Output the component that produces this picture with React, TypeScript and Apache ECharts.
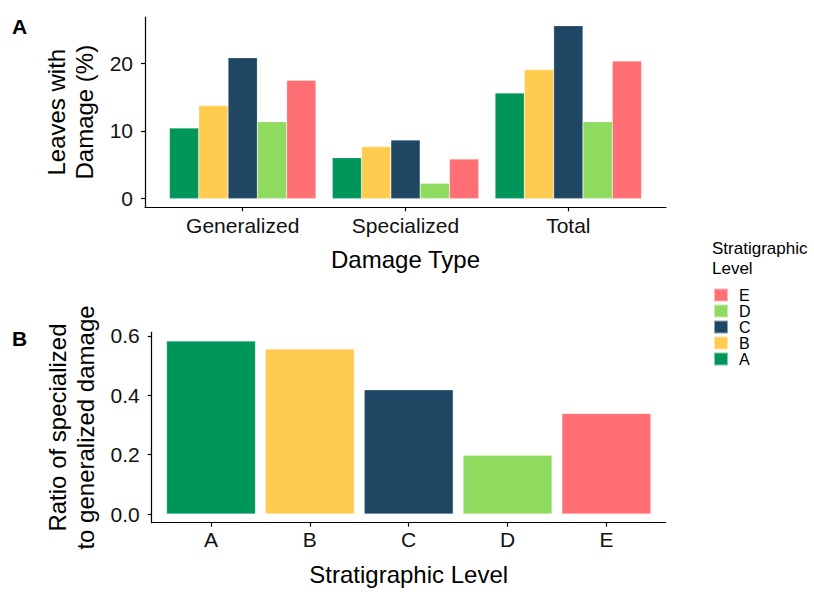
import React, { useEffect, useRef } from "react";
import * as echarts from "echarts";

const categories = ["Generalized", "Specialized", "Total"];
const levels = ["A", "B", "C", "D", "E"];
const legendOrder = ["E", "D", "C", "B", "A"];
const levelColors: Record<string, string> = {
  A: "#00965A",
  B: "#FFCC4F",
  C: "#1F4663",
  D: "#8FDB5F",
  E: "#FF6F74",
};
const damageA = [10.45, 6.06, 15.62];
const damageB = [13.75, 7.69, 19.1];
const damageC = [20.84, 8.67, 25.57];
const damageD = [11.38, 2.27, 11.38];
const damageE = [17.5, 5.87, 20.35];
const ratioValues = [0.5825, 0.5555, 0.418, 0.198, 0.3386];
const topTicks = [0, 10, 20];
const bottomTicks = [0, 0.2, 0.4, 0.6];

const FONT = "'Liberation Sans', Arial, Helvetica, sans-serif";

export default function App() {
  const ref = useRef<HTMLDivElement>(null);
  useEffect(() => {
    if (!ref.current) return;
    const chart = echarts.init(ref.current, undefined, { renderer: "svg" });
    const damage: Record<string, number[]> = {
      A: damageA,
      B: damageB,
      C: damageC,
      D: damageD,
      E: damageE,
    };
    const allTop = [...damageA, ...damageB, ...damageC, ...damageD, ...damageE];
    const topMaxData = Math.max(...allTop);
    const topMin = -0.05 * topMaxData;
    const topMax = 1.05 * topMaxData;
    const botMaxData = Math.max(...ratioValues);
    const botMin = -0.05 * botMaxData;
    const botMax = 1.05 * botMaxData;

    // panel geometry (ggplot-style discrete expansion of 0.6 units)
    const topLeft = 145, topWidth = 521, topTop = 17, topHeight = 190.3;
    const topUnit = topWidth / (categories.length + 0.2);
    const botLeft = 151.7, botWidth = 514, botTop = 332.3, botHeight = 190.4;
    const botUnit = botWidth / (levels.length + 0.2);

    const axisLineStyle = { color: "#000", width: 1.2 };
    const tickLabel = { fontSize: 21, color: "#111", fontFamily: FONT };
    const nameStyle = { fontSize: 24, color: "#000", fontFamily: FONT, lineHeight: 28 };

    chart.setOption({
      animation: false,
      textStyle: { fontFamily: FONT },
      grid: [
        { left: topLeft, top: topTop, width: topWidth, height: topHeight },
        { left: topLeft + 0.1 * topUnit, top: topTop, width: topWidth - 0.2 * topUnit, height: topHeight },
        { left: botLeft, top: botTop, width: botWidth, height: botHeight },
        { left: botLeft + 0.1 * botUnit, top: botTop, width: botWidth - 0.2 * botUnit, height: botHeight },
      ],
      xAxis: [
        {
          gridIndex: 0, type: "value", min: 0, max: 1,
          axisLine: { show: true, onZero: false, lineStyle: axisLineStyle },
          axisTick: { show: false }, axisLabel: { show: false }, splitLine: { show: false },
        },
        {
          gridIndex: 1, type: "category", data: categories,
          axisLine: { show: false, onZero: false },
          axisTick: { show: true, alignWithLabel: true, length: 4, lineStyle: axisLineStyle },
          axisLabel: { ...tickLabel, margin: 8 },
          name: "Damage Type", nameLocation: "middle", nameGap: 38, nameTextStyle: nameStyle,
        },
        {
          gridIndex: 2, type: "value", min: 0, max: 1,
          axisLine: { show: true, onZero: false, lineStyle: axisLineStyle },
          axisTick: { show: false }, axisLabel: { show: false }, splitLine: { show: false },
        },
        {
          gridIndex: 3, type: "category", data: levels,
          axisLine: { show: false, onZero: false },
          axisTick: { show: true, alignWithLabel: true, length: 4, lineStyle: axisLineStyle },
          axisLabel: { ...tickLabel, margin: 6 },
          name: "Stratigraphic Level", nameLocation: "middle", nameGap: 38, nameTextStyle: nameStyle,
        },
      ],
      yAxis: [
        {
          gridIndex: 0, type: "value", min: topMin, max: topMax,
          axisLine: { show: true, lineStyle: axisLineStyle },
          axisTick: { show: true, length: 4, lineStyle: axisLineStyle, customValues: topTicks },
          axisLabel: { ...tickLabel, margin: 12, customValues: topTicks },
          splitLine: { show: false },
          name: "Leaves with\nDamage (%)", nameLocation: "middle", nameRotate: 90, nameGap: 45,
          nameTextStyle: nameStyle,
        },
        { gridIndex: 1, type: "value", min: topMin, max: topMax, show: false },
        {
          gridIndex: 2, type: "value", min: botMin, max: botMax,
          axisLine: { show: true, lineStyle: axisLineStyle },
          axisTick: { show: true, length: 4, lineStyle: axisLineStyle, customValues: bottomTicks },
          axisLabel: {
            ...tickLabel, margin: 12, customValues: bottomTicks,
            formatter: (v: number) => v.toFixed(1),
          },
          splitLine: { show: false },
          name: "Ratio of specialized\nto generalized damage", nameLocation: "middle", nameRotate: 90,
          nameGap: 51, nameTextStyle: nameStyle,
        },
        { gridIndex: 3, type: "value", min: botMin, max: botMax, show: false },
      ],
      legend: {
        data: legendOrder,
        orient: "vertical",
        left: 713,
        top: 287,
        padding: 0,
        itemWidth: 14,
        itemHeight: 13,
        itemGap: 0,
        icon: "rect",
        selectedMode: false,
        textStyle: { fontSize: 16, color: "#000", fontFamily: FONT, padding: [0, 0, 0, 6], lineHeight: 16 },
      },
      graphic: [
        { type: "text", left: 12, top: 16, style: { text: "A", fontSize: 21, fontWeight: "bold", fill: "#000", fontFamily: FONT } },
        { type: "text", left: 12, top: 328, style: { text: "B", fontSize: 21, fontWeight: "bold", fill: "#000", fontFamily: FONT } },
        {
          type: "text", left: 712, top: 238,
          style: { text: "Stratigraphic\nLevel", fontSize: 17, lineHeight: 20, fill: "#000", fontFamily: FONT },
        },
      ],
      series: [
        ...levels.map((lv) => ({
          name: lv,
          type: "bar",
          xAxisIndex: 1,
          yAxisIndex: 1,
          data: damage[lv],
          barGap: "0%",
          barCategoryGap: "10%",
          itemStyle: { color: levelColors[lv], borderColor: "rgba(255,255,255,0.5)", borderWidth: 0.5 },
        })),
        {
          name: "ratio",
          type: "bar",
          xAxisIndex: 3,
          yAxisIndex: 3,
          barCategoryGap: "10%",
          data: ratioValues.map((v, i) => ({
            value: v,
            itemStyle: { color: levelColors[levels[i]], borderColor: "rgba(255,255,255,0.5)", borderWidth: 0.5 },
          })),
        },
      ],
    });
    return () => chart.dispose();
  }, []);
  return (
    <div
      ref={ref}
      style={{ position: "fixed", left: 0, top: 0, width: 814, height: 592, background: "#fff" }}
    />
  );
}
